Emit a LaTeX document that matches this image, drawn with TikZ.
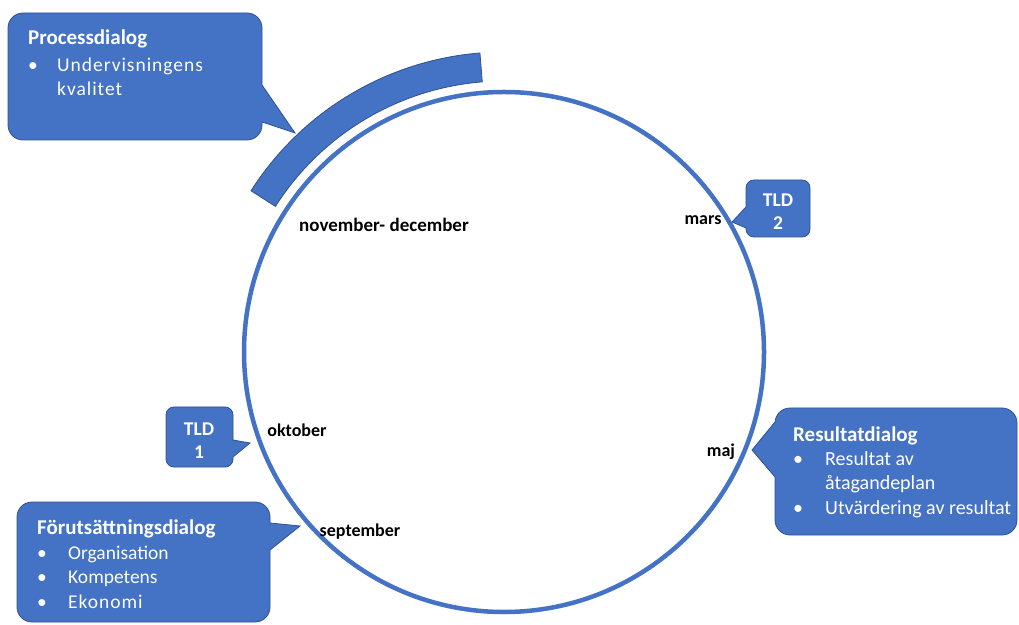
\documentclass[tikz,border=0pt]{standalone}
\usepackage{fontspec}
\setmainfont{Carlito}
\definecolor{dlgblue}{HTML}{4472C4}
\definecolor{dlgedge}{HTML}{2F528F}
\newcommand{\hdrfont}{\fontsize{21}{24.5}\selectfont\bfseries}
\newcommand{\txtfont}{\fontsize{19.5}{24.5}\selectfont}
\newcommand{\blt}[1]{\makebox[#1][l]{\textbullet}}
\newcommand{\spaced}[1]{{\addfontfeatures{LetterSpace=5}#1}}

\tikzset{
	dlgbox/.style={draw=dlgedge, fill=dlgblue, line width=0.8pt},
	dlgtext/.style={text=white, align=left, anchor=base west, inner sep=0pt, font=\txtfont},
	tldtext/.style={text=white, align=center, anchor=base, inner sep=0pt, font=\fontsize{19.5}{23}\selectfont\bfseries},
	monthlbl/.style={inner sep=0pt, font=\fontsize{18}{20}\selectfont\bfseries}
}

\begin{document}
\begin{tikzpicture}[x=1pt,y=1pt]

	\useasboundingbox (0,0) rectangle (1019,624);
	\coordinate (hub) at (504,272);

	% year wheel
	\draw[dlgblue, line width=4.5pt] (hub) circle[radius=260pt];
	\draw[dlgbox] ([shift={(94.6:300pt)}]hub) arc[start angle=94.6, end angle=147.5, radius=300pt]
		-- ([shift={(147.5:271pt)}]hub) arc[start angle=147.5, end angle=94.6, radius=271pt] -- cycle;

	% callouts
	\draw[dlgbox] (262,539) [rounded corners=15pt] -- (262,611) -- (8,611) -- (8,484) -- (262,484) [sharp corners] -- (262,502) -- (295,491) -- cycle;
	\draw[dlgbox] (775,202) [rounded corners=15pt] -- (775,216) -- (1017,216) -- (1017,89) -- (775,89) [sharp corners] -- (775,147) -- (752,174) -- cycle;
	\draw[dlgbox] (270,101) [rounded corners=15pt] -- (270,122) -- (17,122) -- (17,2) -- (270,2) [sharp corners] -- (270,74) -- (300,98) -- cycle;
	\draw[dlgbox] (746,417) [rounded corners=8pt] -- (746,444) -- (810,444) -- (810,387) -- (746,387) [sharp corners] -- (746,396) -- (732,402) -- cycle;
	\draw[dlgbox] (233,184) [rounded corners=8pt] -- (233,217) -- (166,217) -- (166,157) -- (233,157) [sharp corners] -- (233,167) -- (250,181) -- cycle;

	\node[dlgtext] (proc) at (28,528) {{\hdrfont Processdialog}\\[2pt]
		\blt{29pt}\spaced{Undervisningens}\\ \hspace*{29pt}\spaced{kvalitet}};
	\node[dlgtext, font=\fontsize{20}{24.5}\selectfont] (resultat) at (793,110) {{\hdrfont Resultatdialog}\\[-1pt]
		\blt{32pt}Resultat av\\ \hspace*{32pt}åtagandeplan\\ \blt{32pt}Utvärdering av resultat};
	\node[dlgtext] (forut) at (37,16) {{\hdrfont Förutsättningsdialog}\\
		\blt{31pt}Organisation\\ \blt{31pt}Kompetens\\ \blt{31pt}\spaced{Ekonomi}};
	\node[tldtext] (tld2) at (778,394) {TLD\\ 2};
	\node[tldtext] (tld1) at (199,166) {TLD\\ 1};

	% months
	\node[monthlbl, font=\fontsize{19}{20}\selectfont\bfseries] (novdec) at (384,399) {november- december};
	\node[monthlbl] (mars) at (703,404) {mars};
	\node[monthlbl] (okt) at (297,194) {oktober};
	\node[monthlbl] (maj) at (721,172) {maj};
	\node[monthlbl] (sep) at (360,92) {september};

\end{tikzpicture}
\end{document}
